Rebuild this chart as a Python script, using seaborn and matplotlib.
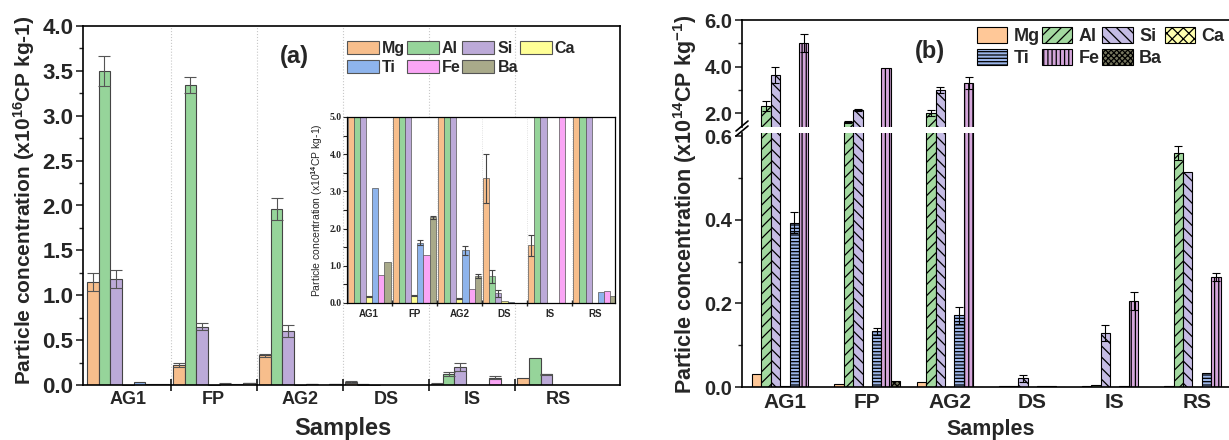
import numpy as np
import pandas as pd
import seaborn as sns
import matplotlib.pyplot as plt
from matplotlib.patches import Patch
from matplotlib.lines import Line2D

samples = ["AG1", "FP", "AG2", "DS", "IS", "RS"]
elements = ["Mg", "Al", "Si", "Ca", "Ti", "Fe", "Ba"]

# panel (a), x10^16 CP/kg  (inset = same values in x10^14)
a_mg = [1.15, 0.22, 0.33, 0.0335, 0.0155, 0.080]
a_al = [3.50, 3.34, 1.96, 0.0072, 0.120, 0.300]
a_si = [1.18, 0.65, 0.60, 0.0026, 0.200, 0.120]
a_ca = [0.0018, 0.0020, 0.0012, 0.0005, 0.0, 0.0]
a_ti = [0.0310, 0.0162, 0.0142, 0.0002, 0.0, 0.0030]
a_fe = [0.0075, 0.0130, 0.0037, 0.0, 0.080, 0.0032]
a_ba = [0.0110, 0.0230, 0.0072, 0.0, 0.0, 0.0020]

a_mg_err = [0.10, 0.02, 0.02, 0.0065, 0.0028, 0.0]
a_al_err = [0.17, 0.09, 0.12, 0.0018, 0.02, 0.0]
a_si_err = [0.10, 0.04, 0.07, 0.0010, 0.04, 0.005]
a_ca_err = [0.0002, 0.0002, 0.0001, 0.0, 0.0, 0.0]
a_ti_err = [0.0, 0.0007, 0.0012, 0.0, 0.0, 0.0]
a_fe_err = [0.0, 0.0, 0.0, 0.0, 0.015, 0.0]
a_ba_err = [0.0, 0.0003, 0.0005, 0.0, 0.0, 0.0]

# panel (b), x10^14 CP/kg
b_mg = [0.030, 0.006, 0.012, 0.003, 0.003, 0.002]
b_al = [2.30, 1.62, 2.00, 0.003, 0.004, 0.561]
b_si = [3.63, 2.13, 2.99, 0.021, 0.129, 0.515]
b_ca = [0.002, 0.0, 0.0, 0.0, 0.0, 0.0]
b_ti = [0.393, 0.133, 0.172, 0.002, 0.003, 0.034]
b_fe = [5.02, 3.93, 3.29, 0.0015, 0.206, 0.263]
b_ba = [0.0, 0.015, 0.0, 0.0, 0.0, 0.0]

b_mg_err = [0.0, 0.0, 0.0, 0.0, 0.0, 0.0]
b_al_err = [0.20, 0.03, 0.13, 0.0, 0.0, 0.017]
b_si_err = [0.33, 0.06, 0.12, 0.008, 0.02, 0.0]
b_ca_err = [0.0, 0.0, 0.0, 0.0, 0.0, 0.0]
b_ti_err = [0.025, 0.008, 0.02, 0.0, 0.0, 0.0]
b_fe_err = [0.38, 0.0, 0.26, 0.0, 0.022, 0.01]
b_ba_err = [0.0, 0.0, 0.0, 0.0, 0.0, 0.0]

colors_a = ["#F7BE8C", "#96D49A", "#BCAAD8", "#FFFF96", "#8EB4EC", "#FAA5F5", "#A9AA8A"]
colors_b = ["#FFC898", "#A3D9A0", "#C5BCE4", "#FFFFB0", "#9BB5E8", "#D4A6DA", "#77775F"]
hatches_b = ["", "///", "\\\\\\", "xxx", "-----", "||||", "xxxxxx"]

sns.set_style("ticks")
plt.rcParams["font.family"] = ["Liberation Sans", "DejaVu Sans"]
plt.rcParams["font.weight"] = "bold"
plt.rcParams["axes.labelweight"] = "bold"
plt.rcParams["mathtext.fontset"] = "custom"
plt.rcParams["mathtext.bf"] = "Liberation Sans:bold"
plt.rcParams["mathtext.rm"] = "Liberation Sans:bold"
plt.rcParams["mathtext.default"] = "bf"
plt.rcParams["hatch.linewidth"] = 0.9


def long_form(cols):
    rows = []
    for el, vals in zip(elements, cols):
        for s, v in zip(samples, vals):
            rows.append((s, el, v))
    return pd.DataFrame(rows, columns=["Sample", "Element", "Value"])


def bars(ax, df, errs, colors, width, scale=1.0, edge="#444444", lw=0.8,
         ecolor="#555555", capsize=3):
    d = df.copy()
    d["Value"] = d["Value"] * scale
    sns.barplot(data=d, x="Sample", y="Value", hue="Element", order=samples,
                hue_order=elements, palette=dict(zip(elements, colors)),
                width=width, gap=0, errorbar=None, legend=False, saturation=1,
                edgecolor=edge, linewidth=lw, ax=ax)
    for cont, err in zip(ax.containers, errs):
        for b in cont:
            xc = b.get_x() + b.get_width() / 2
            e = err[int(round(xc))] * scale
            if e > 0:
                ax.errorbar(xc, b.get_height(), yerr=e, fmt="none", ecolor=ecolor,
                            elinewidth=0.8, capsize=capsize, capthick=0.8)


W, H = 1229, 440
fig = plt.figure(figsize=(W / 100, H / 100), dpi=100)


def px_axes(left, top, right, bottom, **kw):
    return fig.add_axes([left / W, 1 - bottom / H, (right - left) / W, (bottom - top) / H], **kw)


# ---------------- panel (a) ----------------
df_a = long_form([a_mg, a_al, a_si, a_ca, a_ti, a_fe, a_ba])
errs_a = [a_mg_err, a_al_err, a_si_err, a_ca_err, a_ti_err, a_fe_err, a_ba_err]

ax = px_axes(83, 26, 620, 385)
bars(ax, df_a, errs_a, colors_a, 0.95, capsize=4)
ax.set_xlim(-0.52, 5.72)
ax.set_ylim(0, 4.0)
ax.set_yticks(np.arange(0, 4.01, 0.5))
ax.set_yticks(np.arange(0.25, 4.0, 0.5), minor=True)
ax.set_yticklabels([f"{v:.1f}" for v in np.arange(0, 4.01, 0.5)], fontsize=16)
ax.set_xticks(range(6))
ax.set_xticklabels(samples, fontsize=13)
ax.set_xticks(np.arange(0.5, 5.0, 1.0), minor=True)
ax.tick_params(axis="x", which="major", length=0, pad=4)
ax.tick_params(axis="x", which="minor", direction="inout", length=8, width=1.3)
ax.tick_params(axis="y", which="major", direction="out", length=5, width=1.2, pad=2)
ax.tick_params(axis="y", which="minor", direction="out", length=3, width=1.0)
for x in np.arange(0.5, 5.0, 1.0):
    ax.axvline(x, color="#c8c8c8", ls=":", lw=0.8, zorder=0)
for s in ax.spines.values():
    s.set_linewidth(1.2)
    s.set_color("black")
ax.set_xlabel("")
ax.set_ylabel("")
fig.text(24 / W, 1 - 200 / H, "Particle concentration (x10$^{16}$CP kg-1)",
         rotation=90, ha="center", va="center", fontsize=15)
fig.text(343 / W, 1 - 428 / H, "Samples", ha="center", va="center", fontsize=17)
fig.text(294 / W, 1 - 57 / H, "(a)", ha="center", va="center", fontsize=17)

leg_a = [Patch(facecolor=c, edgecolor="#555555", linewidth=0.8, label=e)
         for e, c in zip(elements, colors_a)]
order = [0, 4, 1, 5, 2, 6, 3]
fig.legend(handles=[leg_a[i] for i in order], loc="upper left",
           bbox_to_anchor=(347 / W, 1 - 41 / H), ncol=4, frameon=False, fontsize=11.5,
           handlelength=2.0, handleheight=0.88, handletextpad=0.2, columnspacing=0.1,
           labelspacing=0.25, borderpad=0, borderaxespad=0)

# inset
axi = px_axes(347, 117, 615, 303, facecolor="white")
bars(axi, df_a, errs_a, colors_a, 0.95, scale=100, edge="#555555", lw=0.5,
     ecolor="#444444", capsize=2)
axi.set_xlim(-0.49, 5.45)
axi.set_ylim(0, 5.0)
axi.set_yticks(np.arange(0, 5.01, 1.0))
axi.set_yticks(np.arange(0.5, 5.0, 1.0), minor=True)
axi.set_yticklabels([f"{v:.1f}" for v in np.arange(0, 5.01, 1.0)],
                    fontsize=7, family="Liberation Serif")
axi.set_xticks(range(6))
axi.set_xticklabels(samples, fontsize=7)
axi.set_xticks(np.arange(0.5, 5.0, 1.0), minor=True)
axi.tick_params(axis="x", which="major", length=0, pad=4)
axi.tick_params(axis="x", which="minor", direction="inout", length=4, width=1.0)
axi.tick_params(axis="y", which="both", direction="out", length=3, width=0.8, pad=1)
for x in np.arange(0.5, 5.0, 1.0):
    axi.axvline(x, color="#d8d8d8", ls=":", lw=0.6, zorder=0)
for s in axi.spines.values():
    s.set_linewidth(0.9)
    s.set_color("black")
axi.set_xlabel("")
axi.set_ylabel("Particle concentration (x10$^{14}$CP kg-1)", fontsize=7.5,
               fontweight="normal", labelpad=3)

# ---------------- panel (b) ----------------
df_b = long_form([b_mg, b_al, b_si, b_ca, b_ti, b_fe, b_ba])
errs_b = [b_mg_err, b_al_err, b_si_err, b_ca_err, b_ti_err, b_fe_err, b_ba_err]

ax_t = px_axes(742, 20, 1240, 127)
ax_b = px_axes(742, 133, 1240, 387)
for a in (ax_t, ax_b):
    bars(a, df_b, errs_b, colors_b, 0.8, edge="black", lw=0.8, ecolor="black", capsize=3)
    for cont, h in zip(a.containers, hatches_b):
        for b in cont:
            b.set_hatch(h)
    a.set_xlim(-0.52, 5.52)
    a.set_xlabel("")
    a.set_ylabel("")
    a.spines["right"].set_visible(False)
    for s in a.spines.values():
        s.set_linewidth(1.2)
        s.set_color("black")
    a.tick_params(axis="y", which="major", direction="out", length=5, width=1.2,
                  labelsize=14.5, pad=2)
    a.tick_params(axis="y", which="minor", direction="out", length=3, width=1.0)

ax_t.set_ylim(1.4, 6.0)
ax_t.set_yticks([2.0, 4.0, 6.0])
ax_t.set_yticklabels(["2.0", "4.0", "6.0"])
ax_t.set_yticks([3.0, 5.0], minor=True)
ax_t.spines["bottom"].set_visible(False)
ax_t.set_xticks([])

ax_b.set_ylim(0, 0.608)
ax_b.set_yticks([0.0, 0.2, 0.4, 0.6])
ax_b.set_yticklabels(["0.0", "0.2", "0.4", "0.6"])
ax_b.set_yticks([0.1, 0.3, 0.5], minor=True)
ax_b.spines["top"].set_visible(False)
ax_b.set_xticks(range(6))
ax_b.set_xticklabels(samples, fontsize=15)
ax_b.tick_params(axis="x", which="both", length=0, pad=4)

# axis break marks
for dy in (0, 5):
    fig.add_artist(Line2D([736 / W, 748 / W], [1 - (136 - dy) / H, 1 - (126 - dy) / H],
                          color="black", lw=1.2))

fig.text(685 / W, 1 - 204 / H, "Particle concentration (x10$^{14}$CP kg$^{-1}$)",
         rotation=90, ha="center", va="center", fontsize=15.5)
fig.text(991 / W, 0.5 / H, "Samples", ha="center", va="bottom", fontsize=15.5)
fig.text(930 / W, 1 - 51 / H, "(b)", ha="center", va="center", fontsize=17)

leg_b = [Patch(facecolor=c, edgecolor="black", linewidth=0.8, hatch=h, label=e)
         for e, c, h in zip(elements, colors_b, hatches_b)]
fig.legend(handles=[leg_b[i] for i in order], loc="upper left",
           bbox_to_anchor=(977 / W, 1 - 27 / H), ncol=4, frameon=False, fontsize=13,
           handlelength=1.67, handleheight=1.0, handletextpad=0.35, columnspacing=0.15,
           labelspacing=0.2, borderpad=0, borderaxespad=0)

fig.savefig("out.png", dpi=100)
